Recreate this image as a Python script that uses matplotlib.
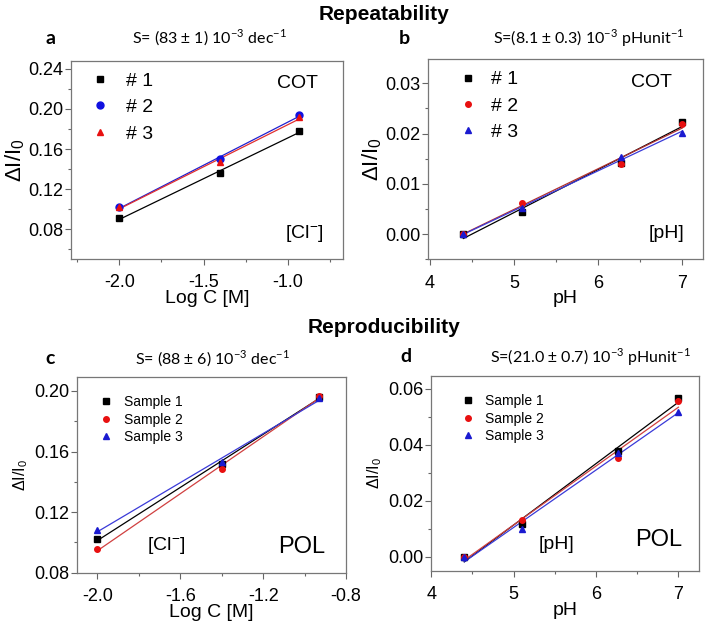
import numpy as np
import matplotlib
matplotlib.use("Agg")
import matplotlib.pyplot as plt
from matplotlib.ticker import MultipleLocator

plt.rcParams['font.family'] = ['Liberation Sans', 'DejaVu Sans']
plt.rcParams['mathtext.fontset'] = 'custom'
plt.rcParams['mathtext.rm'] = 'Liberation Sans'
plt.rcParams['mathtext.it'] = 'Liberation Sans'
plt.rcParams['axes.unicode_minus'] = False

# ---- data ----
logc = [-2.0, -1.4, -0.93]
a_s1 = [0.091, 0.136, 0.178]
a_s2 = [0.102, 0.150, 0.194]
a_s3 = [0.102, 0.147, 0.192]

ph = [4.4, 5.1, 6.27, 7.0]
b_s1 = [0.0000, 0.0043, 0.0141, 0.0224]
b_s2 = [0.0000, 0.0062, 0.0139, 0.0219]
b_s3 = [0.0000, 0.0051, 0.0154, 0.0201]

c_s1 = [0.102, 0.152, 0.196]
c_s2 = [0.0956, 0.1484, 0.1966]
c_s3 = [0.1082, 0.1529, 0.1953]

d_s1 = [0.0000, 0.0117, 0.0379, 0.0566]
d_s2 = [0.0000, 0.0130, 0.0353, 0.0555]
d_s3 = [0.0000, 0.0100, 0.0370, 0.0518]

labels_top = ['# 1', '# 2', '# 3']
labels_bot = ['Sample 1', 'Sample 2', 'Sample 3']

fig = plt.figure(figsize=(7.08, 6.22), dpi=100)

def style(ax, xmaj, xmin, ymaj, ymin, xlim, ylim, fs=13):
    ax.set_xlim(*xlim)
    ax.set_ylim(*ylim)
    ax.xaxis.set_major_locator(MultipleLocator(xmaj))
    ax.xaxis.set_minor_locator(MultipleLocator(xmin))
    ax.yaxis.set_major_locator(MultipleLocator(ymaj))
    ax.yaxis.set_minor_locator(MultipleLocator(ymin))
    ax.tick_params(which='both', direction='out', top=False, right=False,
                   colors='#666666', labelcolor='black', labelsize=fs)
    ax.tick_params(which='major', length=4, width=0.8)
    ax.tick_params(which='minor', length=2.5, width=0.8)
    ax.tick_params(axis='x', which='major', pad=7)
    ax.tick_params(axis='y', which='major', pad=1.5)
    for s in ax.spines.values():
        s.set_color('#777777')
        s.set_linewidth(0.9)

def series(ax, x, ys, colors, lcolors, markers, ms, labels):
    handles = []
    for y, c, lc, m, lab in zip(ys, colors, lcolors, markers, labels):
        k, b0 = np.polyfit(x, y, 1)
        xx = np.array([x[0], x[-1]])
        ax.plot(xx, k * xx + b0, color=lc, lw=0.9, zorder=2)
        h, = ax.plot(x, y, ls='none', marker=m, color=c, ms=ms, zorder=3, label=lab)
        handles.append(h)
    return handles

sub_font = ['Lato', 'DejaVu Sans']

# ---- panel a ----
ax = fig.add_axes([0.0999, 0.5836, 0.3846, 0.3188])
hs = series(ax, logc, [a_s1, a_s2, a_s3], ['black', '#1010e0', '#e81010'],
            ['black', '#2020d0', '#e03030'], ['s', 'o', '^'], 5, labels_top)
style(ax, 0.5, 0.25, 0.04, 0.02, (-2.29, -0.67), (0.0504, 0.248))
ax.set_xlabel('Log C [M]', fontsize=14, labelpad=-1)
ax.set_ylabel(r'$\Delta$I/I$_0$', fontsize=16, labelpad=1)
ax.legend(handles=hs, loc='upper left', bbox_to_anchor=(0.0, 1.03), frameon=False,
          fontsize=14, handletextpad=0.75, labelspacing=0.45, handlelength=1.2)
ax.text(0.908, 0.887, 'COT', transform=ax.transAxes, ha='right', va='center', fontsize=14)
ax.text(0.93, 0.131, r'[Cl$^{\mathregular{-}}$]', transform=ax.transAxes, ha='right',
        va='center', fontsize=14)

# ---- panel b ----
ax = fig.add_axes([0.6045, 0.5831, 0.3889, 0.3216])
hs = series(ax, ph, [b_s1, b_s2, b_s3], ['black', '#e81010', '#1a1ad0'],
            ['black', '#b03030', '#3a3ad8'], ['s', 'o', '^'], 4, labels_top)
style(ax, 1, 0.5, 0.01, 0.005, (3.98, 7.25), (-0.00504, 0.0348))
ax.set_xlabel('pH', fontsize=14, labelpad=-1)
ax.set_ylabel(r'$\Delta$I/I$_0$', fontsize=16, labelpad=1)
ax.legend(handles=hs, loc='upper left', bbox_to_anchor=(0.04, 1.03), frameon=False,
          fontsize=14, handletextpad=0.6, labelspacing=0.45, handlelength=1.2)
ax.text(0.886, 0.886, 'COT', transform=ax.transAxes, ha='right', va='center', fontsize=14)
ax.text(0.93, 0.13, '[pH]', transform=ax.transAxes, ha='right', va='center', fontsize=14)

# ---- panel c ----
ax = fig.add_axes([0.1083, 0.0793, 0.3804, 0.3151])
hs = series(ax, logc, [c_s1, c_s2, c_s3], ['black', '#e81010', '#1a1ad0'],
            ['black', '#d04040', '#3a3ad8'], ['s', 'o', '^'], 4, labels_bot)
style(ax, 0.4, 0.2, 0.04, 0.02, (-2.1, -0.8), (0.08, 0.2094))
ax.set_xlabel('Log C [M]', fontsize=14, labelpad=-1)
ax.set_ylabel(r'$\Delta$I/I$_0$', fontsize=11.5, labelpad=3)
ax.legend(handles=hs, loc='upper left', bbox_to_anchor=(0.022, 0.97), frameon=False,
          fontsize=10, handletextpad=0.6, labelspacing=0.25, handlelength=1.5)
ax.text(0.261, 0.141, r'[Cl$^{\mathregular{-}}$]', transform=ax.transAxes, ha='left',
        va='center', fontsize=14)
ax.text(0.922, 0.133, 'POL', transform=ax.transAxes, ha='right', va='center', fontsize=17)

# ---- panel d ----
ax = fig.add_axes([0.6092, 0.0825, 0.3781, 0.3130])
hs = series(ax, ph, [d_s1, d_s2, d_s3], ['black', '#e81010', '#1a1ad0'],
            ['black', '#d04040', '#3a3ad8'], ['s', 'o', '^'], 4, labels_bot)
style(ax, 1, 0.5, 0.02, 0.01, (4.0, 7.25), (-0.0049, 0.0645))
ax.set_xlabel('pH', fontsize=14, labelpad=-1)
ax.set_ylabel(r'$\Delta$I/I$_0$', fontsize=11.5, labelpad=3)
ax.legend(handles=hs, loc='upper left', bbox_to_anchor=(0.05, 0.97), frameon=False,
          fontsize=10, handletextpad=0.5, labelspacing=0.25, handlelength=1.5)
ax.text(0.402, 0.132, '[pH]', transform=ax.transAxes, ha='left', va='center', fontsize=14)
ax.text(0.937, 0.158, 'POL', transform=ax.transAxes, ha='right', va='center', fontsize=17)

# ---- titles ----
fig.text(384 / 708, 1 - 14 / 622, 'Repeatability', ha='center', va='center',
         fontsize=15, fontweight='bold')
fig.text(384 / 708, 1 - 328 / 622, 'Reproducibility', ha='center', va='center',
         fontsize=15, fontweight='bold')
for x, y, t in [(50, 38, 'a'), (404, 38, 'b'), (50, 359, 'c'), (406, 357, 'd')]:
    fig.text(x / 708, 1 - y / 622, t, ha='center', va='center', fontsize=14,
             fontweight='bold', family=sub_font)
subs = [(210, 38, r'S= (83 $\pm$ 1) 10$^{\mathregular{-3}}$ dec$^{\mathregular{-1}}$'),
        (589, 38, r'S=(8.1 $\pm$ 0.3) 10$^{\mathregular{-3}}$ pHunit$^{\mathregular{-1}}$'),
        (213, 359, r'S= (88 $\pm$ 6) 10$^{\mathregular{-3}}$ dec$^{\mathregular{-1}}$'),
        (590, 357, r'S=(21.0 $\pm$ 0.7) 10$^{\mathregular{-3}}$ pHunit$^{\mathregular{-1}}$')]
for x, y, t in subs:
    fig.text(x / 708, 1 - y / 622, t, ha='center', va='center', fontsize=11.5,
             family=sub_font)

fig.savefig('out.png', dpi=100)
